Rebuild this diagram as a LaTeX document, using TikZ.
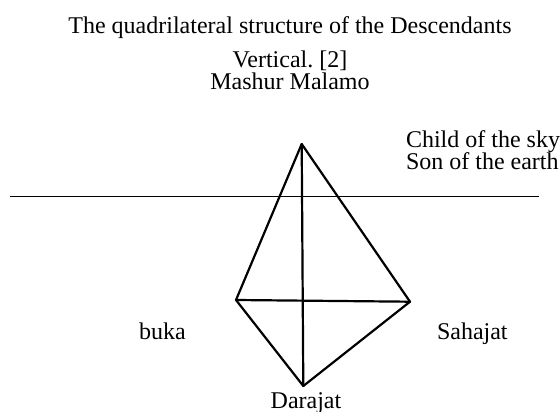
\documentclass[tikz,border=0pt]{standalone}
\usepackage{fontspec}
\setmainfont{Liberation Serif}
\frenchspacing
\begin{document}
\begin{tikzpicture}[x=1pt,y=-1pt,
  lbl/.style={inner sep=0pt,outer sep=0pt,font=\fontsize{24}{22}\selectfont},
  edge/.style={line width=2.2pt,line join=round,line cap=round},
  axis/.style={line width=1.3pt}]
\useasboundingbox (0,0) rectangle (560,412);
% texts
\node[lbl,anchor=base] (t1) at (290,34) {The quadrilateral structure of the Descendants};
\node[lbl,anchor=base] (t2) at (290,68) {Vertical. [2]};
\node[lbl,anchor=base] (t3) at (290,90) {Mashur Malamo};
\node[lbl,anchor=base west] (sky) at (406,147) {Child of the sky};
\node[lbl,anchor=base west] (earth) at (406,169) {Son of the earth};
\node[lbl,anchor=base west] (buka) at (139,339) {buka};
\node[lbl,anchor=base west] (sah) at (437,339) {Sahajat};
\node[lbl,anchor=base] (dar) at (306,408) {Darajat};
% horizon
\coordinate (hl) at (10,196.5);
\coordinate (hr) at (539,196.5);
\draw[axis] (hl) -- (hr);
% vertices
\coordinate (T) at (301.7,144);
\coordinate (L) at (236,300);
\coordinate (R) at (410,301.7);
\coordinate (B) at (303.3,386);
\draw[edge] (T) -- (L);
\draw[edge] (T) -- (R);
\draw[edge] (T) -- (B);
\draw[edge] (L) -- (R);
\draw[edge] (L) -- (B);
\draw[edge] (R) -- (B);
\end{tikzpicture}
\end{document}
